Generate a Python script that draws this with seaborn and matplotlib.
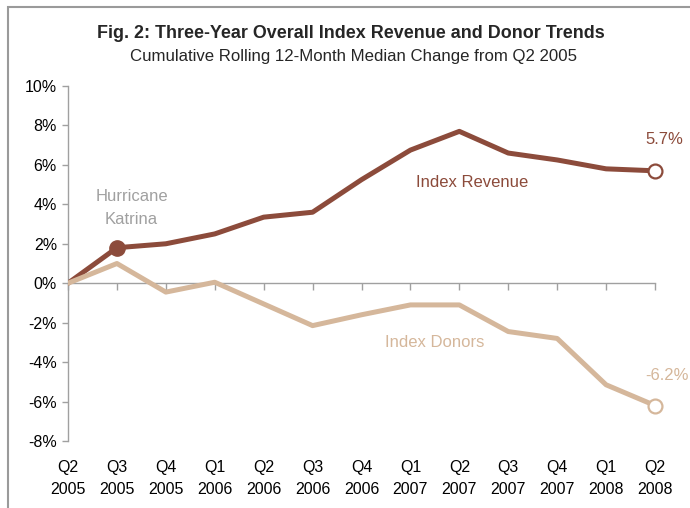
import matplotlib
matplotlib.use("Agg")
import matplotlib.pyplot as plt
import seaborn as sns
import pandas as pd
import numpy as np
from matplotlib.patches import Rectangle

quarters = ["Q2\n2005", "Q3\n2005", "Q4\n2005", "Q1\n2006", "Q2\n2006", "Q3\n2006", "Q4\n2006",
            "Q1\n2007", "Q2\n2007", "Q3\n2007", "Q4\n2007", "Q1\n2008", "Q2\n2008"]
revenue = [0.0, 1.8, 2.0, 2.5, 3.35, 3.6, 5.25, 6.75, 7.7, 6.6, 6.25, 5.8, 5.7]
donors = [0.0, 1.0, -0.45, 0.05, -1.05, -2.15, -1.6, -1.1, -1.1, -2.45, -2.8, -5.15, -6.2]
y_ticks = [10, 8, 6, 4, 2, 0, -2, -4, -6, -8]

REV = "#8C4B3B"
DON = "#D5B79B"
GRAY = "#A0A0A0"

sns.set_theme(style="white")
plt.rcParams['font.family'] = ['Liberation Sans', 'DejaVu Sans']

fig = plt.figure(figsize=(6.9, 5.08), dpi=100)
ax = fig.add_axes([68/690, 1-441/508, (655-68)/690, (441-86)/508])

x = np.arange(len(quarters))
df = pd.DataFrame({"x": np.concatenate([x, x]),
                   "val": revenue + donors,
                   "series": ["Index Revenue"] * len(x) + ["Index Donors"] * len(x)})
sns.lineplot(data=df, x="x", y="val", hue="series",
             palette={"Index Revenue": REV, "Index Donors": DON},
             linewidth=3.6, legend=False, ax=ax, zorder=3)

# markers
ax.plot(x[1], revenue[1], marker="o", markersize=11, color=REV, zorder=4)
ax.plot(x[-1], revenue[-1], marker="o", markersize=10, markerfacecolor="white",
        markeredgecolor=REV, markeredgewidth=1.6, zorder=5, clip_on=False)
ax.plot(x[-1], donors[-1], marker="o", markersize=10, markerfacecolor="white",
        markeredgecolor=DON, markeredgewidth=1.6, zorder=5, clip_on=False)

ax.set_xlim(0, len(x) - 1)
ax.set_ylim(-8, 10)
ax.set_yticks(y_ticks)
ax.set_yticklabels([f"{t}%" for t in y_ticks], fontsize=11.5, color="black")
ax.set_xticks(x)
ax.set_xticklabels(quarters, fontsize=11.5, color="black", linespacing=1.55)
ax.tick_params(axis="x", length=0, pad=14)
ax.tick_params(axis="y", length=4, width=1, color=GRAY, direction="out", pad=4, left=True)
ax.set_xlabel("")
ax.set_ylabel("")
for s in ["top", "right", "bottom"]:
    ax.spines[s].set_visible(False)
ax.spines["left"].set_color(GRAY)
ax.spines["left"].set_linewidth(1)

# zero axis with tick marks
sec = ax.secondary_xaxis(8/18)
sec.set_xticks(x)
sec.set_xticklabels([])
sec.tick_params(length=5, width=1, color=GRAY, direction="out")
sec.spines["bottom"].set_color(GRAY)
sec.spines["bottom"].set_linewidth(1)
for s in ["top", "left", "right"]:
    sec.spines[s].set_visible(False)

# annotations
ax.text(1.3, 3.83, "Hurricane\nKatrina", color=GRAY, fontsize=12, ha="center", va="center",
        linespacing=1.65)
ax.text(8.27, 5.1, "Index Revenue", color=REV, fontsize=12, ha="center", va="center")
ax.text(7.5, -3.0, "Index Donors", color=DON, fontsize=12, ha="center", va="center")
ax.text(12.2, 7.3, "5.7%", color=REV, fontsize=12, ha="center", va="center", clip_on=False)
ax.text(689/690, 1-375/508, "-6.2%", color=DON, fontsize=12, ha="right", va="center",
        transform=fig.transFigure)

fig.text(351/690, 1-33/508, "Fig. 2: Three-Year Overall Index Revenue and Donor Trends",
         fontsize=12.9, fontweight="bold", ha="center", va="center")
fig.text(353/690, 1-56/508, "Cumulative Rolling 12-Month Median Change from Q2 2005",
         fontsize=12.1, ha="center", va="center")

# outer frame (top and left)
fig.add_artist(Rectangle((8/690, -0.5), 2, 1.5 - 7/508, transform=fig.transFigure,
                         fill=False, edgecolor="#9A9A9A", linewidth=1.5))

fig.savefig("out.png", dpi=100)
